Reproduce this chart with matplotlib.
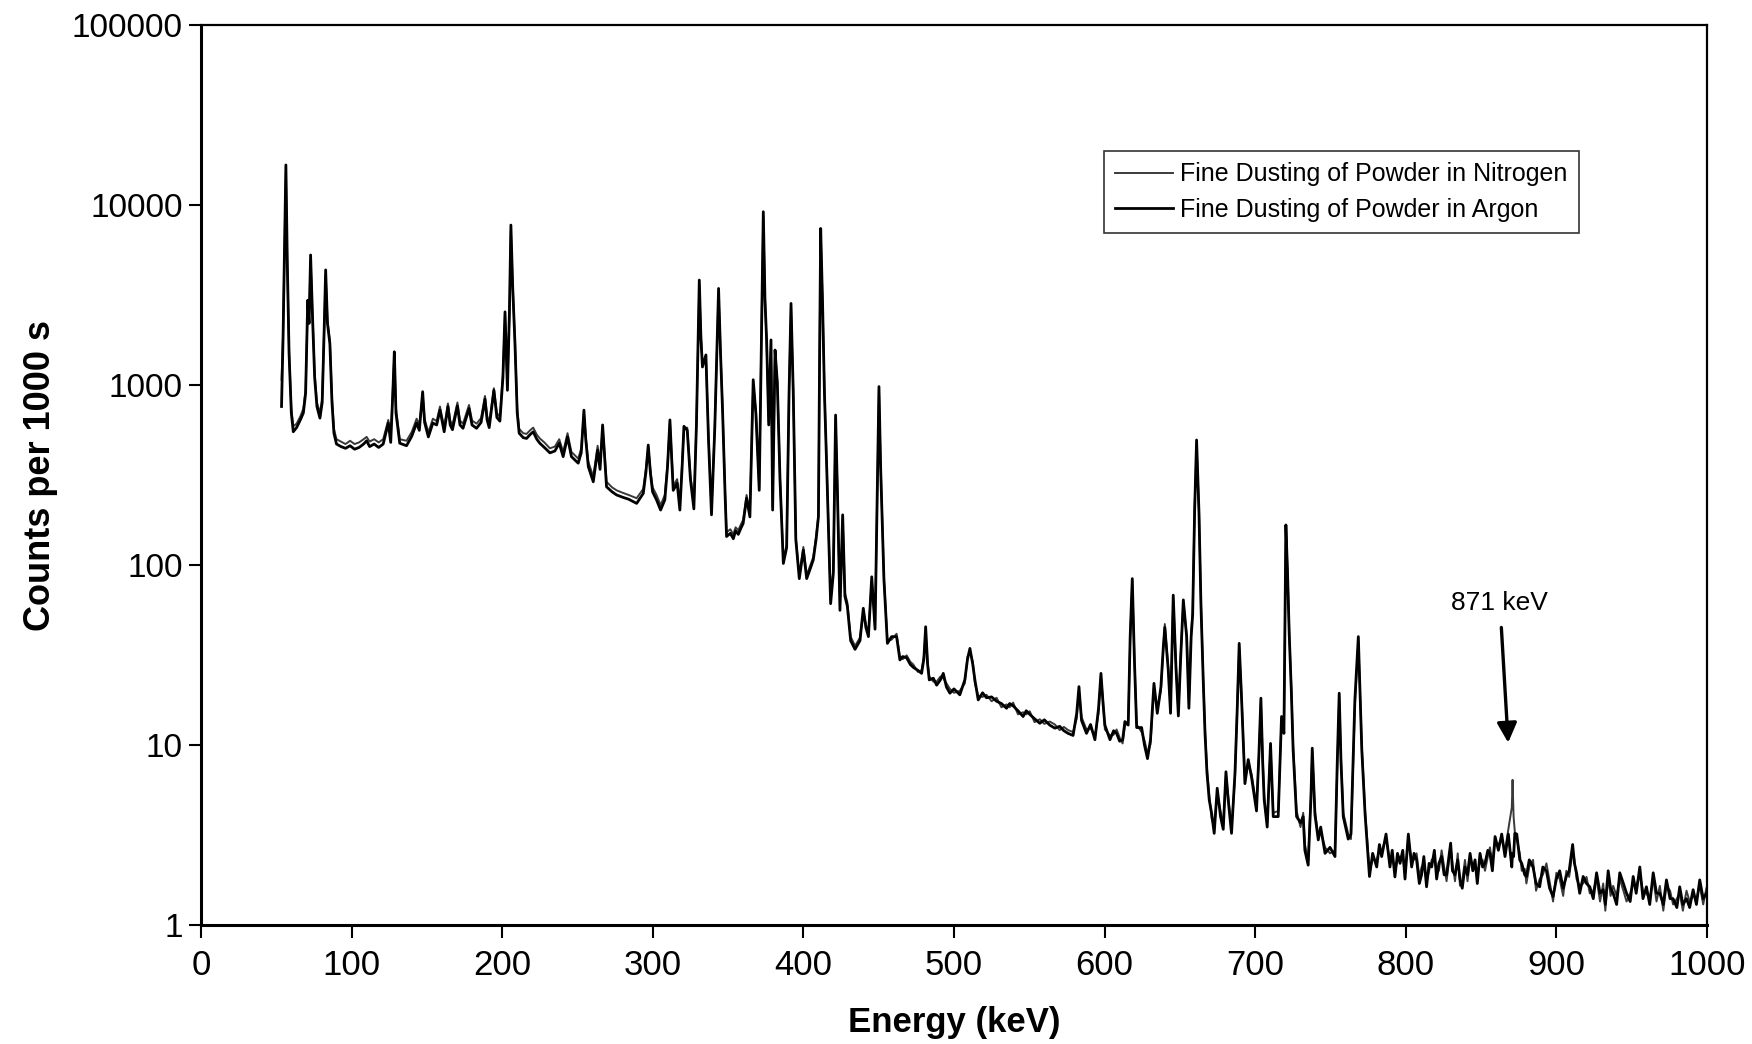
import matplotlib
matplotlib.use("Agg")
import matplotlib.pyplot as plt

plt.rcParams["font.family"] = ["Liberation Sans", "DejaVu Sans"]

# --- spectrum values (energy in keV, counts per 1000 s) ---
energy = [
    53.5, 54.5, 55.5, 56.4, 57.3, 58.5, 60.0, 61.3, 63.5, 66.0,
    68.0, 69.5, 70.9, 71.8, 72.8, 74.0, 75.5, 77.0, 79.0, 80.5,
    81.8, 82.8, 84.0, 85.6, 87.0, 88.3, 90.0, 93.0, 96.0, 99.0,
    102.0, 105.0, 108.0, 110.0, 112.0, 115.0, 118.0, 121.0, 124.4, 126.0,
    127.4, 128.4, 129.5, 132.0, 136.5, 140.0, 143.2, 145.0, 147.2, 148.5,
    151.0, 154.0, 156.5, 158.7, 160.0, 161.5, 164.0, 165.5, 167.0, 170.3,
    172.0, 174.0, 178.0, 180.0, 183.0, 186.0, 188.6, 190.0, 191.4, 194.5,
    196.5, 198.5, 200.5, 201.9, 203.5, 204.8, 205.8, 207.0, 208.5, 210.0,
    211.3, 214.0, 216.2, 218.5, 220.6, 223.0, 225.0, 228.0, 231.7, 235.0,
    237.9, 240.5, 243.4, 246.0, 250.5, 252.5, 254.3, 255.5, 257.2, 260.5,
    263.4, 265.0, 266.7, 268.0, 269.3, 273.0, 276.0, 280.0, 284.0, 289.3,
    293.7, 295.5, 297.0, 298.5, 299.9, 302.5, 305.2, 308.0, 309.8, 311.4,
    312.5, 313.6, 316.2, 318.0, 319.5, 320.7, 322.9, 325.0, 327.3, 329.0,
    330.9, 332.0, 333.0, 335.3, 337.0, 339.0, 341.2, 343.7, 345.0, 346.4,
    348.0, 349.0, 351.5, 353.5, 355.0, 356.8, 358.5, 360.0, 362.3, 364.5,
    366.7, 368.5, 370.7, 372.0, 373.4, 374.5, 375.6, 377.0, 378.5, 379.6,
    381.2, 382.7, 384.5, 386.7, 388.9, 390.5, 391.8, 393.3, 395.0, 397.3,
    400.0, 402.2, 404.5, 406.6, 408.5, 410.0, 410.8, 411.5, 412.8, 414.0,
    415.5, 418.1, 419.9, 421.4, 422.7, 424.3, 426.1, 427.6, 429.2, 431.4,
    434.3, 437.6, 439.8, 441.5, 443.2, 445.4, 447.6, 449.2, 450.2, 451.3,
    453.5, 455.8, 458.6, 461.9, 464.1, 466.0, 468.6, 471.0, 473.0, 476.0,
    478.5, 480.0, 481.2, 482.5, 483.6, 486.3, 488.5, 491.0, 492.9, 495.0,
    497.3, 500.0, 503.9, 507.2, 509.0, 510.6, 512.5, 513.9, 516.1, 519.0,
    521.6, 525.0, 528.3, 531.5, 534.9, 537.0, 539.3, 542.5, 545.9, 548.0,
    550.3, 553.5, 557.0, 560.0, 563.6, 567.0, 570.2, 573.0, 575.8, 579.1,
    581.5, 583.0, 584.7, 588.0, 590.7, 593.6, 596.0, 597.6, 599.0, 600.2,
    603.6, 606.0, 608.0, 610.0, 612.0, 613.5, 615.7, 617.0, 618.4, 619.8,
    621.3, 624.6, 626.5, 628.5, 630.5, 632.8, 635.0, 637.4, 639.0, 640.0,
    642.3, 643.8, 645.6, 647.4, 649.0, 650.5, 652.3, 654.5, 656.0, 657.5,
    658.5, 659.8, 661.1, 662.7, 664.0, 665.5, 666.7, 668.0, 669.5, 671.1,
    672.8, 674.8, 677.0, 678.8, 680.6, 682.1, 684.3, 686.6, 688.0, 689.4,
    691.0, 693.2, 695.4, 697.6, 700.9, 702.5, 703.8, 705.0, 706.0, 708.0,
    710.2, 712.0, 715.3, 717.5, 719.1, 720.4, 721.5, 722.6, 724.0, 725.2,
    727.5, 730.1, 731.9, 733.0, 735.2, 737.0, 737.9, 739.7, 741.9, 743.5,
    746.4, 749.7, 753.0, 754.5, 755.8, 757.0, 758.5, 761.8, 763.6, 766.2,
    768.5, 770.8, 773.0, 775.9, 778.0, 780.7, 782.5, 784.0, 786.9, 789.5,
    791.0, 792.8, 794.5, 796.2, 798.0, 799.5, 801.7, 803.9, 805.5, 807.2,
    809.0, 810.5, 812.0, 813.8, 815.5, 817.2, 819.0, 820.5, 822.0, 823.8,
    825.5, 827.1, 829.8, 831.0, 832.7, 834.5, 836.0, 837.5, 839.3, 841.0,
    842.7, 844.5, 846.0, 847.5, 849.3, 851.0, 852.6, 854.5, 855.9, 857.5,
    859.3, 861.5, 863.7, 865.9, 868.1, 870.4, 870.9, 871.6, 872.4, 873.7,
    875.7, 877.0, 879.0, 880.1, 882.0, 884.5, 886.5, 888.9, 891.0, 893.4,
    895.5, 897.8, 900.0, 902.2, 904.5, 906.6, 908.5, 910.8, 912.0, 913.4,
    915.5, 917.8, 920.0, 922.2, 924.5, 926.7, 929.0, 931.1, 932.5, 934.4,
    936.0, 937.7, 940.0, 942.1, 944.5, 946.6, 949.0, 951.0, 953.0, 955.4,
    957.5, 959.8, 962.0, 964.3, 966.5, 968.7, 971.0, 973.1, 975.5, 977.5,
    980.0, 981.9, 984.0, 986.4, 988.5, 990.8, 993.0, 995.2, 997.5, 999.6,
]

counts_argon = [
    760, 1800, 6000, 16700, 5000, 1500, 700, 550, 580, 640,
    700, 900, 2960, 2200, 5280, 2500, 1100, 760, 655, 800,
    2000, 4360, 2200, 1700, 800, 540, 470, 455, 445, 460,
    440, 450, 470, 490, 455, 470, 450, 470, 615, 480,
    900, 1530, 700, 475, 460, 520, 615, 560, 918, 620,
    515, 615, 600, 725, 640, 550, 760, 600, 565, 765,
    600, 575, 740, 600, 575, 620, 835, 640, 580, 935,
    660, 630, 1100, 2550, 935, 2500, 7740, 3500, 1700, 700,
    540, 510, 505, 530, 550, 500, 475, 450, 420, 430,
    475, 400, 515, 400, 368, 420, 725, 500, 352, 290,
    435, 340, 600, 400, 272, 255, 245, 238, 232, 220,
    250, 330, 464, 320, 255, 230, 202, 230, 350, 640,
    400, 260, 285, 202, 350, 590, 560, 300, 205, 600,
    3830, 1800, 1260, 1470, 500, 190, 580, 3440, 1500, 700,
    250, 144, 150, 140, 155, 148, 160, 170, 235, 185,
    1070, 690, 260, 1500, 9180, 3000, 1780, 600, 1780, 202,
    1565, 1030, 297, 102, 125, 900, 2840, 900, 138, 84,
    121, 84, 95, 107, 140, 185, 1500, 7410, 2730, 900,
    350, 61, 90, 681, 240, 56, 190, 67, 59, 38,
    34, 38, 57.5, 45, 40, 86, 44, 300, 980, 350,
    83, 36.7, 40, 40, 29.7, 31, 30.5, 28, 27, 26,
    25, 30, 45.4, 28, 23, 23.5, 21.5, 23, 25, 21,
    19.4, 20.5, 19, 23, 30, 34.4, 28, 23, 17.8, 19.5,
    18.3, 18.5, 17.5, 17.0, 16, 17, 16.5, 15.5, 14.4, 15.5,
    14.8, 14.0, 13.2, 13.8, 12.9, 12.4, 12.7, 12.0, 11.6, 11.3,
    15, 21.1, 13.7, 11.6, 13, 10.7, 16, 25, 17, 12.9,
    10.7, 12, 11.6, 10.5, 10.7, 13.5, 12.9, 40, 84, 30,
    12.5, 12.5, 10, 8.4, 10.7, 22, 15, 21, 35, 45,
    26, 15, 68, 27, 14.5, 30, 64, 40, 16, 40,
    53, 200, 495, 194, 60, 23, 11.6, 7.0, 4.95, 4.17,
    3.23, 5.75, 4.0, 3.4, 7.1, 4.95, 3.23, 7.0, 15, 36.7,
    17.8, 6.1, 8.3, 6.6, 4.3, 9, 18.2, 8, 4.95, 3.5,
    10.2, 4.0, 4.0, 14.4, 11.6, 167, 90, 41.7, 20, 9.4,
    4.0, 3.7, 4.0, 2.6, 2.15, 5, 9.6, 4.1, 2.97, 3.5,
    2.5, 2.7, 2.4, 8, 19.4, 8, 4.0, 3.0, 3.2, 17.8,
    40, 9.4, 4.1, 1.86, 2.5, 2.1, 2.8, 2.4, 3.2, 2.1,
    2.6, 1.85, 2.5, 2.2, 2.6, 1.8, 3.2, 2.1, 2.5, 2.3,
    1.7, 1.9, 2.4, 1.63, 2.2, 2.1, 2.6, 1.8, 2.2, 2.4,
    1.9, 1.9, 2.85, 2.0, 1.9, 2.3, 1.8, 1.6, 2.1, 1.9,
    2.5, 2.0, 2.3, 1.7, 2.5, 2.1, 2.2, 2.6, 2.5, 2.0,
    3.1, 2.6, 3.2, 2.4, 3.2, 2.1, 2.5, 2.4, 3.23, 3.2,
    2.3, 2.2, 1.9, 1.86, 2.3, 2.1, 1.7, 1.63, 2.1, 2.0,
    1.6, 1.44, 1.8, 2.0, 1.6, 1.86, 2.0, 2.8, 2.2, 1.95,
    1.5, 1.86, 1.7, 1.63, 1.4, 1.95, 1.5, 1.57, 1.3, 2.0,
    1.6, 1.5, 1.3, 1.95, 1.7, 1.5, 1.35, 1.86, 1.5, 2.1,
    1.4, 1.63, 1.3, 1.95, 1.5, 1.5, 1.3, 1.78, 1.4, 1.4,
    1.25, 1.63, 1.3, 1.4, 1.25, 1.57, 1.3, 1.78, 1.4, 1.5,
]

counts_nitrogen = [
    1070, 1900, 5600, 15500, 4800, 1550, 740, 590, 610, 670,
    740, 950, 2800, 2400, 5000, 2600, 1150, 800, 700, 840,
    2100, 4100, 2300, 1750, 850, 570, 500, 485, 470, 490,
    470, 480, 500, 515, 485, 500, 480, 500, 640, 505,
    950, 1480, 740, 500, 490, 550, 650, 600, 880, 650,
    545, 650, 630, 760, 670, 585, 790, 635, 600, 800,
    635, 610, 775, 635, 610, 655, 870, 675, 615, 960,
    700, 665, 1150, 2450, 980, 2400, 7300, 3600, 1750, 740,
    570, 540, 535, 560, 580, 530, 505, 480, 445, 455,
    500, 425, 540, 425, 390, 445, 700, 520, 375, 310,
    460, 360, 580, 420, 290, 270, 260, 252, 245, 235,
    265, 345, 450, 335, 270, 245, 215, 245, 365, 620,
    420, 275, 300, 215, 365, 570, 580, 315, 218, 620,
    3600, 1900, 1300, 1400, 520, 200, 600, 3300, 1550, 720,
    260, 152, 158, 148, 162, 156, 168, 178, 245, 195,
    1020, 710, 270, 1600, 8800, 3100, 1700, 620, 1700, 210,
    1500, 1060, 305, 106, 130, 940, 2700, 930, 142, 88,
    126, 88, 99, 111, 145, 190, 1600, 7100, 2800, 940,
    360, 64, 94, 650, 250, 59, 182, 70, 62, 40,
    35.5, 39.5, 55, 47, 42, 82, 46, 310, 940, 365,
    86, 38, 38.5, 41.5, 31, 30, 31.5, 29, 28, 25.5,
    26, 31, 43, 29, 24, 22.5, 22.5, 24, 23.5, 22,
    20.5, 19.5, 20, 22, 31, 33, 29, 22, 18.8, 18.5,
    19, 17.5, 18.3, 16.2, 16.8, 16.2, 17.2, 14.8, 15.2, 14.8,
    15.4, 13.4, 13.9, 13.1, 13.5, 13.0, 12.1, 12.6, 12.1, 11.8,
    14, 20, 14.3, 12.2, 12.4, 11.2, 15, 24, 17.5, 12.2,
    11.3, 11.4, 12.2, 11.0, 10.2, 12.8, 13.5, 38, 82, 31,
    13, 11.8, 10.6, 9.0, 10.1, 21, 15.8, 20, 34, 47,
    27, 16, 65, 28, 15.2, 31, 62, 41, 17, 42,
    55, 210, 470, 200, 62, 24, 12.2, 7.4, 5.3, 3.9,
    3.5, 5.4, 4.3, 3.6, 6.8, 5.2, 3.4, 6.6, 16, 35,
    18.5, 6.4, 7.9, 6.9, 4.6, 8.6, 17.5, 8.4, 5.2, 3.7,
    9.8, 4.2, 4.3, 13.8, 12.2, 160, 94, 43, 21, 9.9,
    4.3, 3.5, 4.2, 2.8, 2.3, 5.3, 9.2, 4.3, 3.1, 3.3,
    2.7, 2.5, 2.6, 7.6, 18.6, 8.4, 4.2, 3.2, 3.0, 16.5,
    38, 9.9, 4.3, 2.0, 2.3, 2.3, 2.6, 2.6, 3.0, 2.3,
    2.4, 2.0, 2.3, 2.4, 2.4, 1.95, 3.0, 2.3, 2.3, 2.5,
    1.85, 2.1, 2.2, 1.75, 2.0, 2.3, 2.4, 1.95, 2.0, 2.6,
    2.1, 1.75, 2.7, 2.2, 1.75, 2.5, 1.65, 1.75, 2.3, 1.75,
    2.3, 2.2, 2.1, 1.85, 2.3, 2.3, 2.0, 2.4, 2.7, 2.2,
    2.9, 2.8, 3.0, 2.6, 3.4, 4.5, 6.4, 4.0, 3.3, 3.0,
    2.5, 2.0, 2.05, 1.7, 2.1, 2.3, 1.55, 1.8, 1.9, 2.2,
    1.75, 1.35, 1.95, 1.8, 1.45, 2.0, 1.85, 2.6, 2.3, 1.8,
    1.65, 1.7, 1.85, 1.5, 1.55, 1.8, 1.35, 1.7, 1.2, 1.85,
    1.45, 1.65, 1.45, 1.8, 1.55, 1.35, 1.5, 1.7, 1.65, 1.9,
    1.55, 1.5, 1.4, 1.8, 1.35, 1.65, 1.2, 1.65, 1.55, 1.3,
    1.4, 1.5, 1.2, 1.55, 1.35, 1.45, 1.4, 1.65, 1.3, 1.6,
]

assert len(energy) == len(counts_argon) == len(counts_nitrogen)

y_ticks = [1, 10, 100, 1000, 10000, 100000]
x_ticks = [0, 100, 200, 300, 400, 500, 600, 700, 800, 900, 1000]

fig = plt.figure(figsize=(17.52, 10.44), dpi=100)
ax = fig.add_axes([0.1147, 0.114, 0.8596, 0.862])

ax.plot(energy, counts_nitrogen, color="#3a3a3a", lw=1.4,
        label="Fine Dusting of Powder in Nitrogen")
ax.plot(energy, counts_argon, color="black", lw=2.0,
        label="Fine Dusting of Powder in Argon")

ax.set_yscale("log")
ax.set_xlim(0, 1000)
ax.set_ylim(1, 100000)
ax.set_yticks(y_ticks)
ax.set_yticklabels([str(v) for v in y_ticks])
ax.minorticks_off()
ax.set_xticks(x_ticks)
ax.set_xticklabels([str(v) for v in x_ticks])

ax.tick_params(axis="y", direction="out", length=9, width=1.5, labelsize=24, pad=4)
ax.tick_params(axis="x", direction="out", length=9, width=1.5, labelsize=25, pad=8)
for side in ["left", "bottom"]:
    ax.spines[side].set_linewidth(2.2)
for side in ["top", "right"]:
    ax.spines[side].set_linewidth(1.6)

ax.set_xlabel("Energy (keV)", fontsize=25, fontweight="bold")
ax.set_ylabel("Counts per 1000 s", fontsize=26, fontweight="bold")
ax.xaxis.set_label_coords(0.5, -0.09)
ax.yaxis.set_label_coords(-0.095, 0.5)

leg = ax.legend(loc="upper right", bbox_to_anchor=(0.915, 0.86), fontsize=18,
                frameon=True, fancybox=False, handlelength=2.3, handletextpad=0.3,
                borderpad=0.45, labelspacing=0.45, borderaxespad=0)
leg.get_frame().set_edgecolor("black")
leg.get_frame().set_linewidth(1.2)

ax.annotate("871 keV", xy=(868, 10.3), xytext=(862.5, 61.5),
            ha="center", va="center", fontsize=19,
            arrowprops=dict(arrowstyle="-|>", color="black", lw=2.4,
                            mutation_scale=30, shrinkA=7, shrinkB=0))

fig.savefig("out.png", dpi=100)
